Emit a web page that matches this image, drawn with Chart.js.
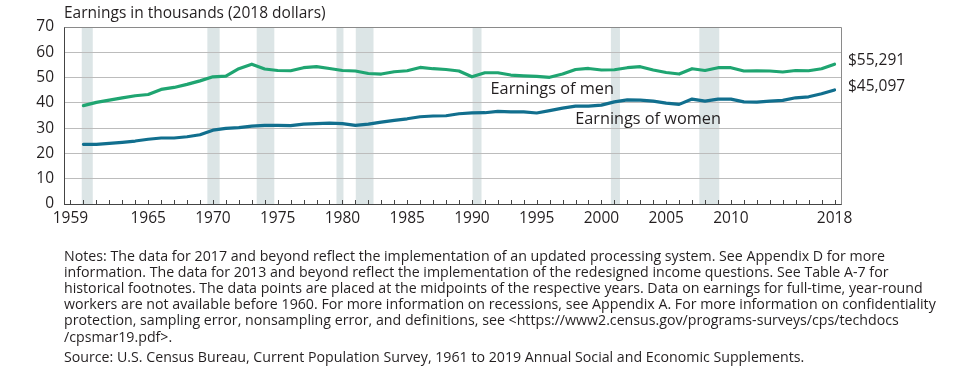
<!DOCTYPE html>
<html>
<head>
<meta charset="utf-8">
<script src="https://cdn.jsdelivr.net/npm/chart.js@4"></script>
<style>
  html, body { margin: 0; padding: 0; background: #ffffff; }
  #wrap { width: 974px; height: 381px; position: relative; }
</style>
</head>
<body>
<div id="wrap"><canvas id="c" width="974" height="381"></canvas></div>
<script>
const years = [];
for (let y = 1960; y <= 2018; y++) years.push(y);

const menEarnings = [38.9, 40.2, 41.1, 42.0, 42.8, 43.3, 45.3, 46.1, 47.3, 48.7,
  50.3, 50.6, 53.5, 55.3, 53.4, 52.8, 52.7, 53.9, 54.3, 53.6,
  52.8, 52.6, 51.6, 51.4, 52.3, 52.7, 54.0, 53.5, 53.2, 52.6,
  50.3, 51.9, 51.9, 51.0, 50.7, 50.5, 50.1, 51.4, 53.2, 53.6,
  53.0, 53.1, 53.9, 54.3, 53.0, 52.0, 51.4, 53.5, 52.8, 53.9,
  53.9, 52.6, 52.7, 52.6, 52.2, 52.8, 52.7, 53.5, 55.291];

const womenEarnings = [23.6, 23.6, 24.0, 24.4, 24.9, 25.6, 26.1, 26.1, 26.6, 27.4,
  29.2, 29.9, 30.2, 30.8, 31.1, 31.1, 31.0, 31.6, 31.8, 32.0,
  31.8, 31.1, 31.6, 32.4, 33.1, 33.7, 34.5, 34.8, 34.9, 35.7,
  36.0, 36.1, 36.6, 36.4, 36.4, 36.0, 36.9, 37.9, 38.7, 38.7,
  39.1, 40.4, 41.2, 41.1, 40.7, 39.9, 39.4, 41.5, 40.7, 41.5,
  41.5, 40.4, 40.3, 40.7, 41.0, 42.0, 42.4, 43.6, 45.097];

const recessionStart = [1959.87, 1969.57, 1973.38, 1979.54, 1981.03, 1990.05, 2000.73, 2007.56];
const recessionEnd   = [1960.72, 1970.52, 1974.74, 1980.08, 1982.40, 1990.74, 2001.43, 2009.10];

const xTickYears = [];
for (let y = 1959; y <= 2018; y++) xTickYears.push(y);
const xLabelYears = [1959, 1965, 1970, 1975, 1980, 1985, 1990, 1995, 2000, 2005, 2010, 2018];
const yTicks = [0, 10, 20, 30, 40, 50, 60, 70];

const titleText = 'Earnings in thousands (2018 dollars)';
const menLabel = 'Earnings of men';
const womenLabel = 'Earnings of women';
const menValueLabel = '$55,291';
const womenValueLabel = '$45,097';

const noteLines = [
  'Notes: The data for 2017 and beyond reflect the implementation of an updated processing system. See Appendix D for more',
  'information. The data for 2013 and beyond reflect the implementation of the redesigned income questions. See Table A-7 for',
  'historical footnotes. The data points are placed at the midpoints of the respective years. Data on earnings for full-time, year-round',
  'workers are not available before 1960. For more information on recessions, see Appendix A. For more information on confidentiality',
  'protection, sampling error, nonsampling error, and definitions, see <https://www2.census.gov/programs-surveys/cps/techdocs',
  '/cpsmar19.pdf>.'
];
const sourceLine = 'Source: U.S. Census Bureau, Current Population Survey, 1961 to 2019 Annual Social and Economic Supplements.';

const GREEN = '#1fa571';
const BLUE = '#116f8e';
const TEXT = '#231f20';
const FONT = '"Open Sans", "DejaVu Sans", sans-serif';

const decorPlugin = {
  id: 'decor',
  beforeDraw(chart) {
    const ctx = chart.ctx, a = chart.chartArea, xs = chart.scales.x;
    ctx.save();
    ctx.fillStyle = '#dce5e6';
    for (let i = 0; i < recessionStart.length; i++) {
      const x0 = xs.getPixelForValue(recessionStart[i]);
      const x1 = xs.getPixelForValue(recessionEnd[i]);
      ctx.fillRect(x0, a.top, x1 - x0, a.bottom - a.top);
    }
    ctx.restore();
  },
  afterDraw(chart) {
    const ctx = chart.ctx, a = chart.chartArea, xs = chart.scales.x, ys = chart.scales.y;
    ctx.save();
    // top/right frame
    ctx.strokeStyle = '#8a8a8a';
    ctx.lineWidth = 1;
    ctx.beginPath();
    ctx.moveTo(Math.round(a.left) + 0.5, Math.round(a.top) + 0.5);
    ctx.lineTo(Math.round(a.right) + 0.5, Math.round(a.top) + 0.5);
    ctx.lineTo(Math.round(a.right) + 0.5, Math.round(a.bottom) + 0.5);
    ctx.stroke();
    // inner tick marks on x axis
    ctx.strokeStyle = '#444';
    ctx.beginPath();
    xTickYears.forEach(y => {
      const px = Math.round(xs.getPixelForValue(y)) + 0.5;
      ctx.moveTo(px, a.bottom);
      ctx.lineTo(px, a.bottom - 4);
    });
    ctx.stroke();

    // title
    ctx.fillStyle = TEXT;
    ctx.textBaseline = 'middle';
    ctx.textAlign = 'left';
    ctx.font = '15.5px ' + FONT;
    ctx.fillText(titleText, a.left, 14);

    // series labels
    ctx.font = '16.3px ' + FONT;
    ctx.textAlign = 'center';
    ctx.fillText(menLabel, xs.getPixelForValue(1996.2), ys.getPixelForValue(45.5));
    ctx.fillText(womenLabel, xs.getPixelForValue(2003.6), ys.getPixelForValue(33.6));

    // end value labels
    ctx.textAlign = 'left';
    ctx.font = '15.5px ' + FONT;
    const n = years.length - 1;
    ctx.fillText(menValueLabel, a.right + 7, ys.getPixelForValue(menEarnings[n]) - 4);
    ctx.fillText(womenValueLabel, a.right + 7, ys.getPixelForValue(womenEarnings[n]) - 3);

    // notes
    ctx.font = '14.2px ' + FONT;
    const noteTops = [257, 273, 289, 305, 321, 337.5];
    noteLines.forEach((t, i) => ctx.fillText(t, a.left, noteTops[i]));
    ctx.fillText(sourceLine, a.left, 358);
    ctx.restore();
  }
};

new Chart(document.getElementById('c'), {
  type: 'line',
  data: {
    datasets: [
      {
        label: menLabel,
        data: years.map((y, i) => ({ x: y, y: menEarnings[i] })),
        borderColor: GREEN,
        borderWidth: 3.2,
        pointRadius: 0,
        tension: 0,
        borderJoinStyle: 'round',
        borderCapStyle: 'round',
        fill: false
      },
      {
        label: womenLabel,
        data: years.map((y, i) => ({ x: y, y: womenEarnings[i] })),
        borderColor: BLUE,
        borderWidth: 3.2,
        pointRadius: 0,
        tension: 0,
        borderJoinStyle: 'round',
        borderCapStyle: 'round',
        fill: false
      }
    ]
  },
  options: {
    responsive: false,
    animation: false,
    layout: { padding: { top: 27, right: 133, bottom: 147, left: 0 } },
    plugins: { legend: { display: false }, tooltip: { enabled: false }, title: { display: false } },
    scales: {
      x: {
        type: 'linear',
        min: 1958.5,
        max: 2018.5,
        afterBuildTicks: s => { s.ticks = xTickYears.map(v => ({ value: v })); },
        afterFit: s => { s.height = 30; },
        grid: { display: false, drawTicks: false },
        border: { display: true, color: '#444', width: 1 },
        ticks: {
          autoSkip: false,
          maxRotation: 0,
          padding: 5,
          color: TEXT,
          font: { family: FONT, size: 15.5 },
          callback: v => xLabelYears.includes(v) ? String(v) : ''
        }
      },
      y: {
        min: 0,
        max: 70,
        afterBuildTicks: s => { s.ticks = yTicks.map(v => ({ value: v })); },
        afterFit: s => { s.width = 64; },
        grid: { color: '#bcbcbc', lineWidth: 1, drawTicks: false },
        border: { display: true, color: '#444', width: 1 },
        ticks: {
          padding: 10,
          color: TEXT,
          font: { family: FONT, size: 15.5 }
        }
      }
    }
  },
  plugins: [decorPlugin]
});
</script>
</body>
</html>
